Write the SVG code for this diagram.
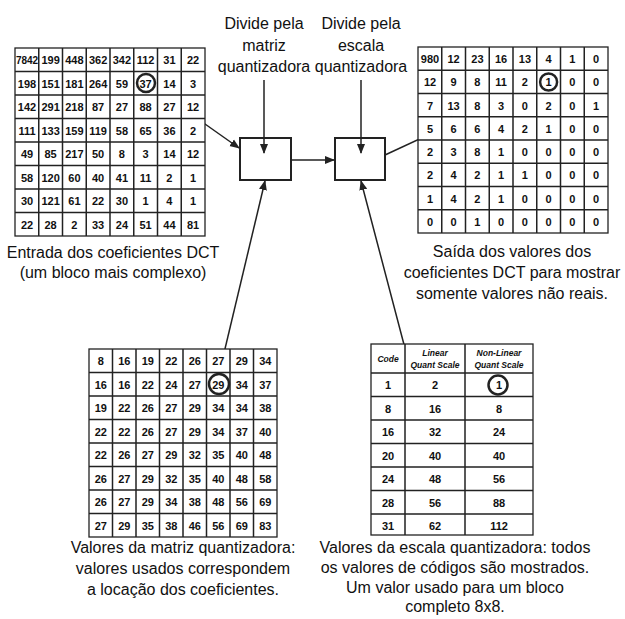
<svg xmlns="http://www.w3.org/2000/svg" width="625" height="619" viewBox="0 0 625 619">
<style>
text{font-family:"Liberation Sans",Arial,sans-serif;fill:#111}
.c{font-size:11px;font-weight:bold;text-anchor:middle}
.l{font-size:16px;text-anchor:middle}
.g{fill:#fff;stroke:#222;stroke-width:1.3}
.o{fill:#fff;stroke:#222;stroke-width:2}
.a{stroke:#222;stroke-width:1.5;fill:none}
.ci{fill:none;stroke:#222;stroke-width:2.5}
.h{font-size:8.5px;font-weight:bold;font-style:italic;text-anchor:middle}
</style>
<defs><marker id="ar" markerWidth="10" markerHeight="10" refX="9" refY="5" orient="auto" markerUnits="userSpaceOnUse"><path d="M0,1 L10,5 L0,9 z" fill="#222"/></marker></defs>
<rect width="625" height="619" fill="#fff"/>
<g id="texts">
<text class="l" x="264" y="29">Divide pela</text><text class="l" x="264" y="51">matriz</text><text class="l" x="264" y="72">quantizadora</text>
<text class="l" x="361" y="29">Divide pela</text><text class="l" x="361" y="51">escala</text><text class="l" x="361" y="72">quantizadora</text>
<text class="l" x="113" y="258">Entrada dos coeficientes DCT</text><text class="l" x="113" y="278">(um bloco mais complexo)</text>
<text class="l" x="512" y="257">Saída dos valores dos</text><text class="l" x="512" y="278">coeficientes DCT para mostrar</text><text class="l" x="512" y="299">somente valores não reais.</text>
<text class="l" x="183" y="553">Valores da matriz quantizadora:</text><text class="l" x="183" y="574">valores usados correspondem</text><text class="l" x="183" y="595">a locação dos  coeficientes.</text>
<text class="l" x="455" y="553">Valores da escala quantizadora: todos</text><text class="l" x="455" y="573">os valores de códigos são mostrados.</text><text class="l" x="455" y="593">Um valor usado para um bloco</text><text class="l" x="455" y="612">completo 8x8.</text>
</g>
<g id="box1"><rect class="o" x="240" y="138" width="51" height="42"/></g>
<g id="box2"><rect class="o" x="335" y="138" width="50" height="42"/></g>
<g id="connectors">
<line class="a" x1="264" y1="80" x2="264" y2="153" marker-end="url(#ar)"/>
<line class="a" x1="361" y1="80" x2="361" y2="153" marker-end="url(#ar)"/>
<line class="a" x1="291" y1="160" x2="334" y2="160" marker-end="url(#ar)"/>
<line class="a" x1="154" y1="88" x2="239" y2="148" marker-end="url(#ar)"/>
<line class="a" x1="385" y1="155" x2="538" y2="84" marker-end="url(#ar)"/>
<line class="a" x1="219" y1="374" x2="265" y2="181" marker-end="url(#ar)"/>
<polyline class="a" points="488,383 412,375 361,181" marker-end="url(#ar)"/>
</g>
<g id="input-grid">
<rect class="g" x="15" y="48" width="190" height="188"/>
<path class="a" d="M38.75,48V236M62.5,48V236M86.25,48V236M110,48V236M133.75,48V236M157.5,48V236M181.25,48V236M15,71.5H205M15,95H205M15,118.5H205M15,142H205M15,165.5H205M15,189H205M15,212.5H205"/>
<text class="c" y="64"><tspan x="27" font-size="10">7842</tspan><tspan x="50.6">199</tspan><tspan x="74.4">448</tspan><tspan x="98.1">362</tspan><tspan x="121.9">342</tspan><tspan x="145.6">112</tspan><tspan x="169.4">31</tspan><tspan x="193.1">22</tspan></text>
<text class="c" y="87.5"><tspan x="27">198</tspan><tspan x="50.6">151</tspan><tspan x="74.4">181</tspan><tspan x="98.1">264</tspan><tspan x="121.9">59</tspan><tspan x="145.6">37</tspan><tspan x="169.4">14</tspan><tspan x="193.1">3</tspan></text>
<text class="c" y="111"><tspan x="27">142</tspan><tspan x="50.6">291</tspan><tspan x="74.4">218</tspan><tspan x="98.1">87</tspan><tspan x="121.9">27</tspan><tspan x="145.6">88</tspan><tspan x="169.4">27</tspan><tspan x="193.1">12</tspan></text>
<text class="c" y="134.5"><tspan x="27">111</tspan><tspan x="50.6">133</tspan><tspan x="74.4">159</tspan><tspan x="98.1">119</tspan><tspan x="121.9">58</tspan><tspan x="145.6">65</tspan><tspan x="169.4">36</tspan><tspan x="193.1">2</tspan></text>
<text class="c" y="158"><tspan x="27">49</tspan><tspan x="50.6">85</tspan><tspan x="74.4">217</tspan><tspan x="98.1">50</tspan><tspan x="121.9">8</tspan><tspan x="145.6">3</tspan><tspan x="169.4">14</tspan><tspan x="193.1">12</tspan></text>
<text class="c" y="181.5"><tspan x="27">58</tspan><tspan x="50.6">120</tspan><tspan x="74.4">60</tspan><tspan x="98.1">40</tspan><tspan x="121.9">41</tspan><tspan x="145.6">11</tspan><tspan x="169.4">2</tspan><tspan x="193.1">1</tspan></text>
<text class="c" y="205"><tspan x="27">30</tspan><tspan x="50.6">121</tspan><tspan x="74.4">61</tspan><tspan x="98.1">22</tspan><tspan x="121.9">30</tspan><tspan x="145.6">1</tspan><tspan x="169.4">4</tspan><tspan x="193.1">1</tspan></text>
<text class="c" y="228.5"><tspan x="27">22</tspan><tspan x="50.6">28</tspan><tspan x="74.4">2</tspan><tspan x="98.1">33</tspan><tspan x="121.9">24</tspan><tspan x="145.6">51</tspan><tspan x="169.4">44</tspan><tspan x="193.1">81</tspan></text>
<circle class="ci" cx="146" cy="83" r="9"/>
</g>
<g id="output-grid">
<rect class="g" x="418" y="47" width="190" height="186"/>
<path class="a" d="M441.75,47V233M465.5,47V233M489.25,47V233M513,47V233M536.75,47V233M560.5,47V233M584.25,47V233M418,70.25H608M418,93.5H608M418,116.75H608M418,140H608M418,163.25H608M418,186.5H608M418,209.75H608"/>
<text class="c" y="63"><tspan x="430">980</tspan><tspan x="453.6">12</tspan><tspan x="477.4">23</tspan><tspan x="501.1">16</tspan><tspan x="524.9">13</tspan><tspan x="548.6">4</tspan><tspan x="572.4">1</tspan><tspan x="596.1">0</tspan></text>
<text class="c" y="86"><tspan x="430">12</tspan><tspan x="453.6">9</tspan><tspan x="477.4">8</tspan><tspan x="501.1">11</tspan><tspan x="524.9">2</tspan><tspan x="548.6">1</tspan><tspan x="572.4">0</tspan><tspan x="596.1">0</tspan></text>
<text class="c" y="109.5"><tspan x="430">7</tspan><tspan x="453.6">13</tspan><tspan x="477.4">8</tspan><tspan x="501.1">3</tspan><tspan x="524.9">0</tspan><tspan x="548.6">2</tspan><tspan x="572.4">0</tspan><tspan x="596.1">1</tspan></text>
<text class="c" y="132.5"><tspan x="430">5</tspan><tspan x="453.6">6</tspan><tspan x="477.4">6</tspan><tspan x="501.1">4</tspan><tspan x="524.9">2</tspan><tspan x="548.6">1</tspan><tspan x="572.4">0</tspan><tspan x="596.1">0</tspan></text>
<text class="c" y="156"><tspan x="430">2</tspan><tspan x="453.6">3</tspan><tspan x="477.4">8</tspan><tspan x="501.1">1</tspan><tspan x="524.9">0</tspan><tspan x="548.6">0</tspan><tspan x="572.4">0</tspan><tspan x="596.1">0</tspan></text>
<text class="c" y="179"><tspan x="430">2</tspan><tspan x="453.6">4</tspan><tspan x="477.4">2</tspan><tspan x="501.1">1</tspan><tspan x="524.9">1</tspan><tspan x="548.6">0</tspan><tspan x="572.4">0</tspan><tspan x="596.1">0</tspan></text>
<text class="c" y="202.5"><tspan x="430">1</tspan><tspan x="453.6">4</tspan><tspan x="477.4">2</tspan><tspan x="501.1">1</tspan><tspan x="524.9">0</tspan><tspan x="548.6">0</tspan><tspan x="572.4">0</tspan><tspan x="596.1">0</tspan></text>
<text class="c" y="225.5"><tspan x="430">0</tspan><tspan x="453.6">0</tspan><tspan x="477.4">1</tspan><tspan x="501.1">0</tspan><tspan x="524.9">0</tspan><tspan x="548.6">0</tspan><tspan x="572.4">0</tspan><tspan x="596.1">0</tspan></text>
<circle class="ci" cx="548.6" cy="82" r="8.5"/>
</g>
<g id="quant-matrix">
<rect class="g" x="89" y="349" width="188" height="188"/>
<path class="a" d="M112.5,349V537M136,349V537M159.5,349V537M183,349V537M206.5,349V537M230,349V537M253.5,349V537M89,372.5H277M89,396H277M89,419.5H277M89,443H277M89,466.5H277M89,490H277M89,513.5H277"/>
<text class="c" y="365"><tspan x="100.8">8</tspan><tspan x="124.3">16</tspan><tspan x="147.8">19</tspan><tspan x="171.3">22</tspan><tspan x="194.8">26</tspan><tspan x="218.3">27</tspan><tspan x="241.8">29</tspan><tspan x="265.3">34</tspan></text>
<text class="c" y="388.5"><tspan x="100.8">16</tspan><tspan x="124.3">16</tspan><tspan x="147.8">22</tspan><tspan x="171.3">24</tspan><tspan x="194.8">27</tspan><tspan x="218.3">29</tspan><tspan x="241.8">34</tspan><tspan x="265.3">37</tspan></text>
<text class="c" y="412"><tspan x="100.8">19</tspan><tspan x="124.3">22</tspan><tspan x="147.8">26</tspan><tspan x="171.3">27</tspan><tspan x="194.8">29</tspan><tspan x="218.3">34</tspan><tspan x="241.8">34</tspan><tspan x="265.3">38</tspan></text>
<text class="c" y="435.5"><tspan x="100.8">22</tspan><tspan x="124.3">22</tspan><tspan x="147.8">26</tspan><tspan x="171.3">27</tspan><tspan x="194.8">29</tspan><tspan x="218.3">34</tspan><tspan x="241.8">37</tspan><tspan x="265.3">40</tspan></text>
<text class="c" y="459"><tspan x="100.8">22</tspan><tspan x="124.3">26</tspan><tspan x="147.8">27</tspan><tspan x="171.3">29</tspan><tspan x="194.8">32</tspan><tspan x="218.3">35</tspan><tspan x="241.8">40</tspan><tspan x="265.3">48</tspan></text>
<text class="c" y="482.5"><tspan x="100.8">26</tspan><tspan x="124.3">27</tspan><tspan x="147.8">29</tspan><tspan x="171.3">32</tspan><tspan x="194.8">35</tspan><tspan x="218.3">40</tspan><tspan x="241.8">48</tspan><tspan x="265.3">58</tspan></text>
<text class="c" y="506"><tspan x="100.8">26</tspan><tspan x="124.3">27</tspan><tspan x="147.8">29</tspan><tspan x="171.3">34</tspan><tspan x="194.8">38</tspan><tspan x="218.3">48</tspan><tspan x="241.8">56</tspan><tspan x="265.3">69</tspan></text>
<text class="c" y="529.5"><tspan x="100.8">27</tspan><tspan x="124.3">29</tspan><tspan x="147.8">35</tspan><tspan x="171.3">38</tspan><tspan x="194.8">46</tspan><tspan x="218.3">56</tspan><tspan x="241.8">69</tspan><tspan x="265.3">83</tspan></text>
<circle class="ci" cx="219" cy="384" r="10"/>
</g>
<g id="quant-scale">
<rect class="g" x="371" y="344" width="162" height="191"/>
<path class="a" d="M405,344V535M465,344V535M371,373H533M371,396.5H533M371,420H533M371,443.5H533M371,467H533M371,490.5H533M371,514H533"/>
<text class="h" x="388" y="362">Code</text>
<text class="h" x="435" y="356">Linear</text><text class="h" x="435" y="368">Quant Scale</text>
<text class="h" x="499" y="356">Non-Linear</text><text class="h" x="499" y="368">Quant Scale</text>
<text class="c" y="389"><tspan x="388">1</tspan><tspan x="435">2</tspan><tspan x="499">1</tspan></text>
<text class="c" y="412.5"><tspan x="388">8</tspan><tspan x="435">16</tspan><tspan x="499">8</tspan></text>
<text class="c" y="436"><tspan x="388">16</tspan><tspan x="435">32</tspan><tspan x="499">24</tspan></text>
<text class="c" y="459.5"><tspan x="388">20</tspan><tspan x="435">40</tspan><tspan x="499">40</tspan></text>
<text class="c" y="483"><tspan x="388">24</tspan><tspan x="435">48</tspan><tspan x="499">56</tspan></text>
<text class="c" y="506.5"><tspan x="388">28</tspan><tspan x="435">56</tspan><tspan x="499">88</tspan></text>
<text class="c" y="530"><tspan x="388">31</tspan><tspan x="435">62</tspan><tspan x="499">112</tspan></text>
<circle class="ci" cx="498" cy="385" r="9.5"/>
</g>
</svg>
